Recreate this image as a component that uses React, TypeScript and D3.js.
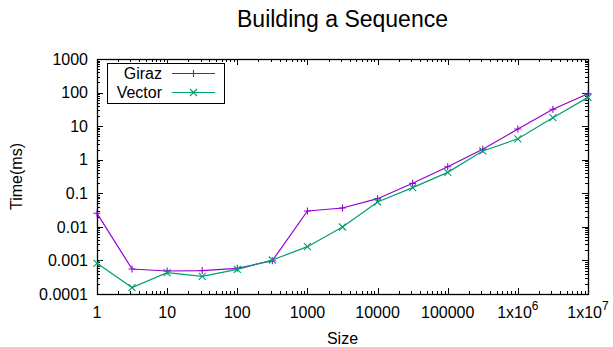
import * as d3 from 'd3';
import { useEffect, useRef } from 'react';

// sizes are half-decade steps
const sizes = [1, 3.16, 10, 31.6, 100, 316, 1000, 3162, 10000, 31623, 100000, 316228, 1e6, 3.16e6, 1e7];
const giraz = [0.0253, 0.000555, 0.000484, 0.0005, 0.00058, 0.00098, 0.0297, 0.0365, 0.069, 0.198, 0.62, 2.04, 8.2, 31.7, 92.6];
const vector = [0.00082, 0.000155, 0.000431, 0.000336, 0.00054, 0.00103, 0.00257, 0.0099, 0.055, 0.147, 0.42, 1.82, 4.2, 17.8, 72];
const xTicks = [1, 10, 100, 1000, 10000, 100000, 1e6, 1e7];
const xTickLabels = ['1', '10', '100', '1000', '10000', '100000', '1x10^6', '1x10^7'];
const yTicks = [0.0001, 0.001, 0.01, 0.1, 1, 10, 100, 1000];
const yTickLabels = ['0.0001', '0.001', '0.01', '0.1', '1', '10', '100', '1000'];

const App = () => {
  const ref = useRef<SVGSVGElement>(null);

  useEffect(() => {
    const width = 613;
    const height = 347;
    const margin = { top: 59, right: 25, bottom: 53, left: 97 };
    const font = 'Liberation Sans, Arial, sans-serif';

    const svg = d3.select(ref.current);
    svg.selectAll('*').remove();
    svg.attr('width', width).attr('height', height);

    const x = d3.scaleLog().domain([1, 1e7]).range([margin.left, width - margin.right]);
    const y = d3.scaleLog().domain([0.0001, 1000]).range([height - margin.bottom, margin.top]);
    const [x0, x1] = x.range();
    const [y0, y1] = y.range();

    // minor ticks 2..9 in each decade
    const minorX: number[] = [];
    xTicks.slice(0, -1).forEach(t => d3.range(2, 10).forEach(m => minorX.push(t * m)));
    const minorY: number[] = [];
    yTicks.slice(0, -1).forEach(t => d3.range(2, 10).forEach(m => minorY.push(t * m)));

    const ticks = svg.append('g').attr('stroke', '#000').attr('stroke-width', 1).attr('shape-rendering', 'crispEdges');
    const tx = (v: number, len: number) => {
      const px = Math.round(x(v)) + 0.5;
      ticks.append('line').attr('x1', px).attr('x2', px).attr('y1', y0).attr('y2', y0 - len);
      ticks.append('line').attr('x1', px).attr('x2', px).attr('y1', y1).attr('y2', y1 + len);
    };
    const ty = (v: number, len: number) => {
      const py = Math.round(y(v)) + 0.5;
      ticks.append('line').attr('y1', py).attr('y2', py).attr('x1', x0).attr('x2', x0 + len);
      ticks.append('line').attr('y1', py).attr('y2', py).attr('x1', x1).attr('x2', x1 - len);
    };
    xTicks.forEach(t => tx(t, 6));
    minorX.forEach(t => tx(t, 3));
    yTicks.forEach(t => ty(t, 6));
    minorY.forEach(t => ty(t, 3));

    svg.append('rect')
      .attr('x', x0 + 0.5).attr('y', y1 + 0.5)
      .attr('width', x1 - x0).attr('height', y0 - y1)
      .attr('fill', 'none').attr('stroke', '#000').attr('stroke-width', 1.3);

    // tick labels
    const xl = svg.append('g').attr('font-family', font).attr('font-size', 16).attr('fill', '#000');
    xTicks.forEach((t, i) => {
      const lab = xTickLabels[i];
      const txt = xl.append('text').attr('x', x(t)).attr('y', 318).attr('text-anchor', 'middle');
      if (lab.includes('^')) {
        const [base, exp] = lab.split('^');
        txt.append('tspan').text(base);
        txt.append('tspan').attr('font-size', 12).attr('dy', -8).text(exp);
      } else {
        txt.text(lab);
      }
    });
    yTicks.forEach((t, i) => {
      xl.append('text').attr('x', 88).attr('y', y(t)).attr('dy', '0.36em')
        .attr('text-anchor', 'end').text(yTickLabels[i]);
    });

    // series
    const line = d3.line<number>().x((_, i) => x(sizes[i])).y(d => y(d));
    const series = [
      { name: 'Giraz', values: giraz, color: '#9400d3', mark: 'plus' },
      { name: 'Vector', values: vector, color: '#009e73', mark: 'cross' },
    ];
    const drawMark = (g: any, cx: number, cy: number, kind: string, color: string) => {
      const r = 3.5;
      if (kind === 'plus') {
        g.append('path').attr('d', `M${cx - r},${cy}H${cx + r}M${cx},${cy - r}V${cy + r}`)
          .attr('stroke', color).attr('stroke-width', 1.1).attr('fill', 'none');
      } else {
        g.append('path').attr('d', `M${cx - r},${cy - r}L${cx + r},${cy + r}M${cx - r},${cy + r}L${cx + r},${cy - r}`)
          .attr('stroke', color).attr('stroke-width', 1.1).attr('fill', 'none');
      }
    };
    series.forEach(s => {
      const g = svg.append('g');
      g.append('path').datum(s.values).attr('d', line)
        .attr('fill', 'none').attr('stroke', s.color).attr('stroke-width', 1.2);
      s.values.forEach((v, i) => drawMark(g, x(sizes[i]), y(v), s.mark, s.color));
    });

    // legend
    const lg = svg.append('g').attr('font-family', font).attr('font-size', 16);
    lg.append('rect').attr('x', 107.5).attr('y', 63.5).attr('width', 117).attr('height', 40)
      .attr('fill', '#fff').attr('stroke', '#000').attr('stroke-width', 1);
    series.forEach((s, i) => {
      const cy = 73.5 + i * 19;
      lg.append('text').attr('x', 162).attr('y', cy).attr('dy', '0.36em').attr('text-anchor', 'end').text(s.name);
      lg.append('line').attr('x1', 172).attr('x2', 215).attr('y1', cy).attr('y2', cy)
        .attr('stroke', s.color).attr('stroke-width', 1.2);
      drawMark(lg, 193.5, cy, s.mark, s.color);
    });

    // titles
    svg.append('text').attr('x', (x0 + x1) / 2).attr('y', 27).attr('text-anchor', 'middle')
      .attr('font-family', font).attr('font-size', 23).text('Building a Sequence');
    svg.append('text').attr('x', (x0 + x1) / 2).attr('y', 344).attr('text-anchor', 'middle')
      .attr('font-family', font).attr('font-size', 16).text('Size');
    svg.append('text').attr('transform', `translate(22,${(y0 + y1) / 2}) rotate(-90)`)
      .attr('text-anchor', 'middle').attr('font-family', font).attr('font-size', 16).text('Time(ms)');
  }, []);

  return <svg ref={ref} style={{ position: 'absolute', left: 0, top: 0 }}></svg>;
};

export default App;
